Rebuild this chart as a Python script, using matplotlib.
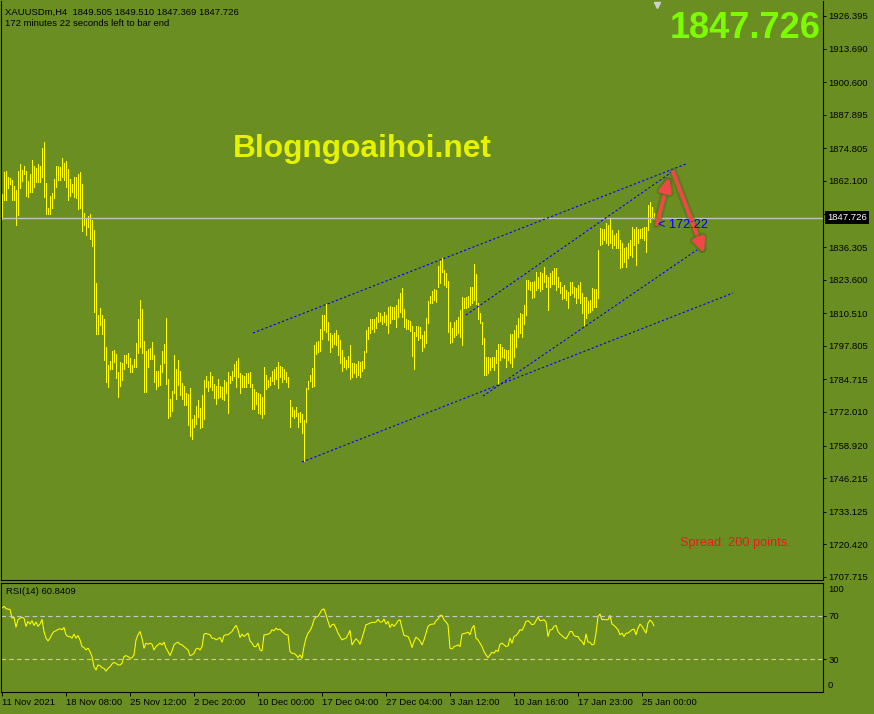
import matplotlib
matplotlib.use("Agg")
import matplotlib.pyplot as plt
import matplotlib.patheffects as pe
import numpy as np

plt.rcParams['font.family'] = ['Liberation Sans', 'DejaVu Sans']

W, H = 874, 714
BG = '#6B8E23'

# H4 bars, XAUUSD
high = [1856.9, 1865.5, 1865.9, 1863.6, 1863.2, 1862.4, 1860.1, 1858.5, 1865.9, 1868.6,
        1866.3, 1867.9, 1865.9, 1862.0, 1864.7, 1870.2, 1867.9, 1867.1, 1868.6, 1867.9,
        1874.9, 1877.2, 1861.2, 1851.5, 1856.2, 1857.3, 1862.8, 1867.9, 1867.9, 1867.5,
        1871.0, 1869.0, 1869.8, 1866.7, 1862.8, 1860.8, 1863.6, 1863.6, 1864.7, 1865.5,
        1860.8, 1849.5, 1847.2, 1848.4, 1849.1, 1846.8, 1842.9, 1822.2, 1809.8, 1812.5,
        1809.8, 1808.2, 1797.3, 1790.3, 1791.8, 1795.7, 1796.1, 1794.5, 1787.5, 1791.4,
        1791.0, 1794.2, 1794.2, 1794.9, 1793.0, 1790.3, 1792.6, 1798.8, 1808.2, 1815.6,
        1812.1, 1799.6, 1795.7, 1796.5, 1796.9, 1799.2, 1794.2, 1787.9, 1787.9, 1790.3,
        1795.7, 1798.4, 1808.6, 1784.8, 1777.0, 1780.1, 1794.2, 1788.7, 1792.2, 1787.9,
        1783.2, 1782.1, 1779.3, 1778.9, 1781.3, 1769.2, 1770.8, 1774.3, 1776.6, 1773.5,
        1778.5, 1784.4, 1786.0, 1784.0, 1787.5, 1786.0, 1782.9, 1782.1, 1784.8, 1782.1,
        1781.7, 1784.4, 1783.6, 1787.5, 1786.0, 1787.9, 1790.6, 1791.8, 1793.0, 1787.1,
        1786.4, 1786.0, 1787.1, 1787.1, 1787.5, 1782.9, 1780.9, 1779.7, 1779.3, 1778.9,
        1777.8, 1789.5, 1786.4, 1784.4, 1785.6, 1787.9, 1788.7, 1789.5, 1791.4, 1789.9,
        1789.5, 1788.7, 1787.5, 1785.6, 1776.6, 1773.9, 1772.7, 1773.9, 1771.5, 1771.9,
        1771.1, 1768.8, 1781.3, 1784.0, 1786.4, 1789.1, 1798.1, 1799.2, 1799.6, 1804.3,
        1809.8, 1809.8, 1814.0, 1807.0, 1802.7, 1801.9, 1802.7, 1803.9, 1801.9, 1800.0,
        1796.1, 1793.4, 1792.2, 1793.8, 1798.1, 1791.0, 1791.0, 1790.6, 1791.8, 1791.4,
        1791.8, 1795.7, 1803.9, 1805.1, 1808.2, 1808.2, 1808.2, 1809.0, 1810.9, 1810.5,
        1809.4, 1810.9, 1809.8, 1812.9, 1813.3, 1812.9, 1812.9, 1813.7, 1816.0, 1818.3,
        1820.3, 1812.1, 1808.2, 1807.8, 1807.4, 1805.5, 1803.1, 1805.5, 1805.5, 1805.1,
        1801.9, 1803.5, 1808.6, 1815.2, 1817.2, 1819.1, 1819.9, 1819.5, 1828.9, 1831.2,
        1832.0, 1827.3, 1826.1, 1823.0, 1807.0, 1804.7, 1807.0, 1807.8, 1809.0, 1811.7,
        1816.8, 1816.4, 1816.8, 1817.2, 1820.7, 1820.7, 1829.7, 1825.8, 1814.4, 1810.5,
        1807.0, 1800.8, 1793.4, 1793.4, 1793.0, 1793.4, 1793.4, 1796.1, 1798.4, 1798.4,
        1797.3, 1796.5, 1796.1, 1796.1, 1802.3, 1802.3, 1803.9, 1805.9, 1808.6, 1810.5,
        1810.1, 1813.7, 1823.4, 1823.4, 1822.6, 1822.6, 1823.0, 1826.5, 1824.6, 1826.5,
        1826.1, 1828.5, 1825.4, 1824.6, 1826.1, 1826.9, 1828.1, 1828.1, 1824.6, 1822.6,
        1820.7, 1821.5, 1819.5, 1818.7, 1822.6, 1822.6, 1820.7, 1820.3, 1821.5, 1822.6,
        1818.3, 1816.8, 1816.8, 1815.2, 1815.6, 1820.3, 1819.9, 1819.9, 1835.1, 1843.7,
        1843.3, 1843.3, 1845.6, 1844.9, 1847.6, 1842.9, 1840.9, 1841.7, 1842.9, 1839.0,
        1837.8, 1835.9, 1836.3, 1837.8, 1839.0, 1844.1, 1843.3, 1844.1, 1843.3, 1843.3,
        1843.7, 1844.1, 1844.1, 1852.7, 1853.9, 1851.9, 1849.5]

low = [1847.2, 1854.6, 1854.6, 1859.3, 1860.8, 1854.6, 1854.6, 1844.9, 1848.8, 1859.3,
       1862.0, 1864.7, 1856.2, 1855.8, 1857.7, 1857.7, 1859.7, 1861.6, 1861.6, 1861.6,
       1863.6, 1855.8, 1849.1, 1849.1, 1849.1, 1851.5, 1855.4, 1859.7, 1862.4, 1862.4,
       1863.6, 1862.4, 1859.7, 1854.6, 1856.2, 1857.7, 1855.8, 1855.4, 1851.1, 1851.5,
       1842.5, 1844.9, 1840.9, 1844.1, 1839.4, 1836.7, 1810.9, 1802.3, 1802.3, 1805.9,
       1802.3, 1792.2, 1783.6, 1781.7, 1788.7, 1788.7, 1791.4, 1785.2, 1777.8, 1782.1,
       1784.4, 1788.7, 1791.0, 1789.5, 1787.5, 1787.5, 1789.5, 1789.5, 1794.9, 1797.3,
       1794.9, 1779.7, 1779.7, 1789.5, 1792.6, 1792.6, 1783.6, 1780.9, 1782.1, 1782.5,
       1787.5, 1791.0, 1782.9, 1769.6, 1770.4, 1772.3, 1779.3, 1777.0, 1782.5, 1778.6,
       1777.0, 1774.7, 1774.7, 1766.9, 1762.6, 1761.4, 1766.1, 1767.2, 1770.0, 1765.7,
       1766.1, 1769.2, 1781.7, 1780.1, 1781.7, 1780.5, 1777.4, 1775.0, 1777.4, 1777.8,
       1777.0, 1776.6, 1779.3, 1771.5, 1783.2, 1784.4, 1786.0, 1781.7, 1785.6, 1779.3,
       1781.7, 1781.7, 1781.7, 1783.2, 1781.7, 1773.1, 1773.1, 1775.0, 1771.5, 1771.1,
       1769.6, 1771.1, 1780.9, 1781.7, 1782.5, 1784.0, 1782.9, 1784.8, 1781.3, 1785.6,
       1783.6, 1784.8, 1783.6, 1781.7, 1766.1, 1770.4, 1769.6, 1770.4, 1766.1, 1768.0,
       1763.7, 1752.8, 1768.0, 1780.9, 1784.0, 1781.7, 1782.1, 1794.5, 1795.3, 1795.7,
       1800.4, 1803.9, 1803.1, 1800.0, 1795.3, 1797.3, 1798.4, 1798.1, 1794.2, 1791.0,
       1787.9, 1789.5, 1788.7, 1789.5, 1784.8, 1785.6, 1787.1, 1785.6, 1786.4, 1785.6,
       1787.9, 1789.1, 1795.3, 1800.4, 1802.7, 1804.3, 1803.1, 1804.7, 1807.0, 1807.4,
       1806.2, 1807.0, 1805.9, 1802.7, 1806.6, 1808.2, 1808.2, 1805.1, 1809.0, 1810.9,
       1809.0, 1805.1, 1804.3, 1804.3, 1803.5, 1793.8, 1788.7, 1801.6, 1800.0, 1800.8,
       1795.7, 1797.3, 1798.8, 1806.6, 1814.4, 1814.4, 1815.6, 1814.8, 1820.7, 1822.2,
       1826.5, 1821.5, 1820.7, 1803.1, 1798.8, 1799.2, 1801.2, 1801.9, 1802.7, 1801.2,
       1798.1, 1812.5, 1812.5, 1812.9, 1813.7, 1814.4, 1815.6, 1814.0, 1808.2, 1806.6,
       1798.4, 1786.4, 1786.4, 1787.1, 1788.3, 1789.5, 1788.3, 1791.0, 1782.5, 1792.2,
       1793.4, 1793.0, 1789.5, 1792.2, 1791.0, 1789.5, 1793.4, 1797.3, 1801.2, 1802.7,
       1801.2, 1806.2, 1809.8, 1819.9, 1819.5, 1816.4, 1816.8, 1819.5, 1820.3, 1819.1,
       1819.9, 1822.6, 1820.7, 1811.7, 1820.7, 1821.9, 1821.9, 1819.5, 1820.7, 1818.3,
       1816.0, 1816.4, 1815.6, 1812.5, 1817.6, 1818.3, 1816.8, 1814.4, 1816.4, 1814.4,
       1810.5, 1805.9, 1808.6, 1810.5, 1810.9, 1811.7, 1812.9, 1812.9, 1816.4, 1837.1,
       1837.4, 1839.0, 1837.8, 1837.1, 1837.8, 1835.9, 1837.1, 1835.9, 1835.9, 1828.1,
       1828.5, 1830.4, 1828.5, 1832.0, 1833.2, 1832.4, 1837.1, 1829.3, 1837.8, 1839.8,
       1839.8, 1839.0, 1834.3, 1842.9, 1846.0, 1847.6, 1847.4]

rsi = [77.0, 78.6, 76.5, 76.0, 75.8, 67.8, 68.5, 59.5, 66.3, 67.8,
       68.5, 67.8, 60.2, 64.8, 62.3, 65.4, 61.1, 64.2, 60.2, 62.3,
       66.6, 55.5, 49.4, 46.9, 49.4, 53.1, 55.5, 56.2, 57.4, 58.0,
       57.1, 59.2, 52.5, 50.9, 50.9, 49.4, 53.1, 49.4, 51.8, 47.8,
       41.7, 40.8, 38.6, 40.2, 37.1, 32.5, 23.2, 20.2, 24.8, 24.2,
       22.3, 21.7, 19.2, 21.7, 23.2, 25.7, 27.2, 26.3, 24.8, 24.8,
       26.3, 32.5, 33.4, 32.5, 30.9, 31.5, 34.0, 47.8, 52.5, 55.5,
       49.4, 40.2, 44.8, 43.8, 44.8, 43.8, 38.6, 41.7, 43.2, 44.8,
       43.2, 45.7, 40.2, 37.1, 33.4, 37.7, 43.2, 44.8, 45.7, 43.8,
       43.2, 41.7, 40.2, 38.6, 33.4, 34.0, 35.5, 39.5, 40.2, 38.6,
       41.4, 53.1, 53.7, 53.1, 52.5, 49.4, 49.4, 47.8, 48.8, 50.0,
       45.7, 51.8, 52.5, 52.5, 54.0, 55.5, 58.6, 61.1, 57.1, 50.0,
       53.1, 50.9, 52.5, 54.0, 46.9, 44.8, 41.7, 41.7, 44.8, 38.6,
       37.7, 52.5, 52.5, 53.1, 54.0, 57.1, 56.2, 58.6, 57.1, 57.7,
       55.5, 54.0, 52.5, 52.5, 37.1, 35.5, 35.5, 34.0, 31.5, 34.0,
       30.9, 41.7, 49.4, 54.0, 56.2, 60.2, 66.3, 68.8, 69.4, 72.5,
       75.5, 76.2, 70.9, 64.8, 59.2, 61.7, 62.3, 58.6, 54.0, 50.9,
       47.8, 48.8, 49.4, 52.5, 56.5, 43.2, 46.3, 48.8, 46.9, 43.8,
       49.4, 55.5, 61.7, 62.3, 63.2, 63.8, 63.8, 64.2, 66.6, 64.2,
       64.2, 66.9, 62.3, 64.8, 59.2, 62.3, 60.2, 62.3, 65.4, 66.3,
       58.6, 51.8, 51.5, 50.9, 46.9, 40.8, 46.3, 50.3, 48.8, 46.9,
       43.2, 47.8, 54.0, 60.2, 61.7, 62.3, 62.3, 65.4, 66.9, 70.3,
       70.3, 66.3, 64.2, 61.7, 40.2, 39.5, 41.7, 42.3, 43.2, 41.7,
       53.1, 53.7, 54.0, 54.9, 52.5, 58.6, 61.1, 49.4, 47.8, 44.8,
       41.7, 37.1, 34.0, 31.5, 34.0, 36.5, 35.5, 38.3, 37.1, 43.8,
       44.8, 43.2, 41.7, 42.3, 49.4, 44.8, 50.9, 51.8, 54.0, 57.1,
       56.5, 60.2, 64.8, 65.4, 63.8, 61.7, 62.3, 65.4, 68.8, 65.4,
       65.7, 66.3, 64.2, 50.9, 57.1, 57.1, 60.2, 61.1, 55.5, 53.1,
       51.8, 50.0, 48.8, 51.8, 55.5, 55.5, 51.8, 50.9, 50.9, 47.8,
       46.3, 43.2, 53.1, 45.7, 45.7, 43.2, 43.8, 54.0, 69.4, 71.5,
       66.3, 66.6, 66.3, 66.3, 70.3, 62.3, 61.1, 59.2, 57.1, 52.5,
       54.0, 50.9, 54.0, 54.0, 55.5, 57.1, 57.7, 52.5, 58.6, 62.3,
       60.2, 57.1, 54.0, 63.2, 66.0, 64.2, 60.8]

price_ticks = [1926.395, 1913.690, 1900.600, 1887.895, 1874.805, 1862.100, 1849.010,
               1836.305, 1823.600, 1810.510, 1797.805, 1784.715, 1772.010, 1758.920,
               1746.215, 1733.125, 1720.420, 1707.715]
date_labels = ['11 Nov 2021', '18 Nov 08:00', '25 Nov 12:00', '2 Dec 20:00', '10 Dec 00:00',
               '17 Dec 04:00', '27 Dec 04:00', '3 Jan 12:00', '10 Jan 16:00', '17 Jan 23:00',
               '25 Jan 00:00']
date_bars = [0, 32, 64, 96, 128, 160, 192, 224, 256, 288, 320]
last_price = 1847.726
rsi_last = 60.8409

# trendlines: (bar0, price0, bar1, price1)
channel_lines = [(125.5, 1802.8, 342.0, 1868.7),
                 (150.0, 1752.5, 365.5, 1818.4),
                 (232.0, 1809.8, 335.0, 1865.6),
                 (240.5, 1778.2, 347.5, 1835.2)]
arrows = [((327.5, 1845.3), (333.5, 1863.6)),
          ((335.5, 1865.6), (351.0, 1834.0))]


def px_box(x0, y0, x1, y1):
    return [x0 / W, 1 - y1 / H, (x1 - x0) / W, (y1 - y0) / H]


fig = plt.figure(figsize=(W / 100, H / 100), dpi=100, facecolor=BG)
bars = np.arange(len(high))

# main price panel
ax = fig.add_axes(px_box(1, 1, 823, 580))
ax.set_facecolor(BG)
ax.vlines(bars, low, high, color='#FFFF00', lw=0.5, antialiased=False)
ax.axhline(last_price, color='#C0C0C0', lw=1.0)
for b0, p0, b1, p1 in channel_lines:
    ax.plot([b0, b1], [p0, p1], color='#0000FF', lw=0.8, ls=(0, (2, 2)))
for start, end in arrows:
    an = ax.annotate('', xy=end, xytext=start,
                     arrowprops=dict(arrowstyle='-|>,head_length=0.8,head_width=0.35',
                                     color='#F04848', lw=2.5, shrinkA=0, shrinkB=0))
    an.arrow_patch.set_path_effects([pe.withStroke(linewidth=6, foreground='#4F6B18', alpha=0.45),
                                     pe.Normal()])
ax.set_xlim(-0.5, 410.5)
ax.set_ylim(1706.51, 1932.24)
ax.set_xticks([])
ax.yaxis.tick_right()
# the 1849.010 label sits under the black last-price box in the reference
ax.set_yticks(price_ticks, ['' if t == 1849.010 else f'{t:.3f}' for t in price_ticks])
ax.tick_params(axis='y', length=2.5, width=0.7, pad=1.5, labelsize=6.8, colors='black')
for s in ax.spines.values():
    s.set_color('black')
    s.set_linewidth(0.8)
ax.spines['top'].set_visible(False)

ax.annotate(f'{last_price:.3f}', xy=(1.0, last_price), xycoords=('axes fraction', 'data'),
            xytext=(4, 0), textcoords='offset pixels', ha='left', va='center',
            fontsize=6.8, color='white', annotation_clip=False,
            bbox=dict(boxstyle='square,pad=0.2', fc='black', ec='none'))

ax.text(328, 1844.9, '< 172:22', color='#0000FF', fontsize=9.2, ha='left', va='center')

# RSI panel
ax2 = fig.add_axes(px_box(1, 583, 823, 692))
ax2.set_facecolor(BG)
ax2.plot(bars, rsi, color='#FFFF00', lw=0.75)
for lvl in (30, 70):
    ax2.axhline(lvl, color='#C8C8C8', lw=0.8, ls=(0, (4, 3)))
ax2.set_xlim(-0.5, 410.5)
ax2.set_ylim(0, 100)
ax2.yaxis.tick_right()
ax2.set_yticks([30, 70], ['30', '70'])
ax2.tick_params(axis='y', length=2.5, width=0.7, pad=1.5, labelsize=6.8, colors='black')
for val, lab in ((94, '100'), (6, '0')):
    ax2.annotate(lab, xy=(1.0, val), xycoords=('axes fraction', 'data'), xytext=(5, 0),
                 textcoords='offset pixels', ha='left', va='center', fontsize=6.8,
                 annotation_clip=False)
ax2.set_xticks(date_bars, date_labels)
ax2.tick_params(axis='x', length=3, width=0.7, pad=1.5, labelsize=6.8, colors='black')
for lbl in ax2.get_xticklabels():
    lbl.set_ha('left')
for s in ax2.spines.values():
    s.set_color('black')
    s.set_linewidth(0.8)
ax2.text(5 / 822, 1 - 8 / 109, f'RSI(14) {rsi_last}', transform=ax2.transAxes,
         fontsize=6.8, ha='left', va='center')

# header / overlay texts
fig.text(5 / W, 1 - 12 / H, 'XAUUSDm,H4  1849.505 1849.510 1847.369 1847.726',
         fontsize=6.8, ha='left', va='center')
fig.text(5 / W, 1 - 23 / H, '172 minutes 22 seconds left to bar end',
         fontsize=6.8, ha='left', va='center')
fig.text(821 / W, 1 - 37.5 / H, f'{last_price:.3f}', fontsize=26, fontweight='bold',
         color='#7CFC00', ha='right', va='baseline')
fig.text(233 / W, 1 - 157 / H, 'Blogngoaihoi.net', fontsize=22.8, fontweight='bold',
         color='#E6F200', ha='left', va='baseline')
fig.text(680 / W, 1 - 543 / H, 'Spread: 200 points.', fontsize=9.2, color='#F01818',
         ha='left', va='center')
fig.lines.append(plt.Line2D([657 / W], [1 - 5 / H], marker='v', markersize=5,
                            color='#D0D0D0', transform=fig.transFigure))

fig.savefig('out.png', dpi=100, facecolor=BG)
